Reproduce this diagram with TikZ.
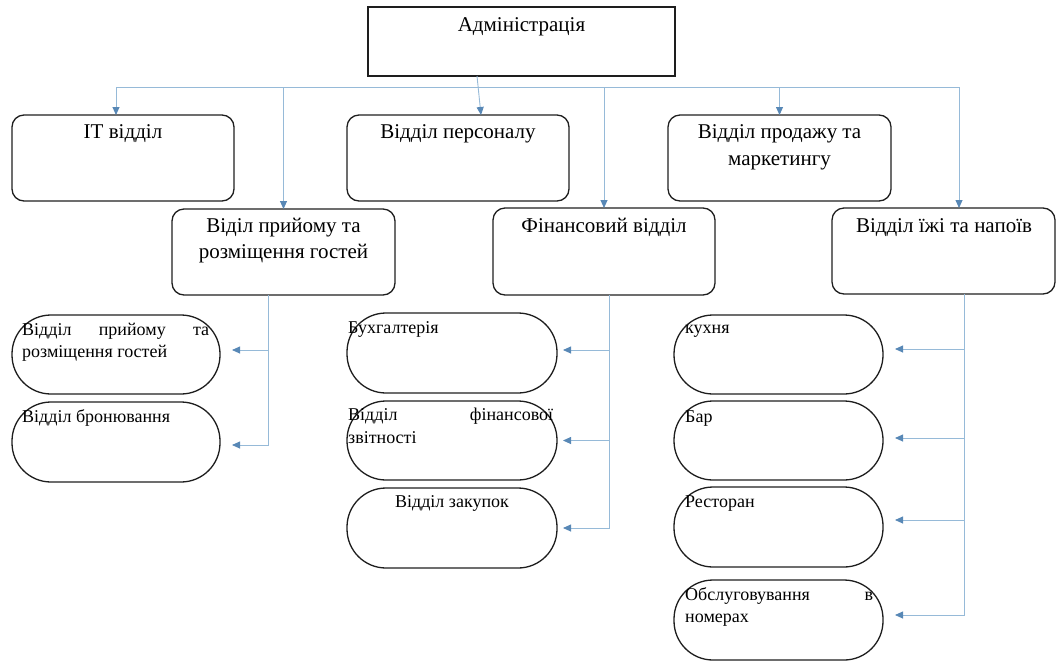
\documentclass[tikz,border=0pt]{standalone}
\usepackage{fontspec}
\setmainfont{Liberation Serif}
\usetikzlibrary{arrows.meta,calc}
\definecolor{linkblue}{RGB}{150,186,216}
\definecolor{tipblue}{RGB}{88,136,182}
\definecolor{boxline}{RGB}{30,30,30}
\begin{document}
\begin{tikzpicture}[x=1pt,y=-1pt,
  sqbox/.style={draw=boxline, line width=1.6pt, inner sep=0, outer sep=0, anchor=north west},
  rbox/.style={draw=boxline, line width=1.3pt, rounded corners=12pt, inner sep=0, outer sep=0, anchor=north west},
  pill/.style={draw=boxline, line width=1.3pt, rounded corners=39pt, inner sep=0, outer sep=0, anchor=north west},
  bigtxt/.style={font=\fontsize{21}{25}\selectfont, inner sep=0, anchor=base},
  smalltxt/.style={font=\fontsize{18}{22}\selectfont, inner sep=0, anchor=base west},
  conn/.style={draw=linkblue, line width=0.9pt},
  arr/.style={draw=linkblue, line width=0.9pt, -{Triangle[length=8pt,width=7pt,color=tipblue]}}
]
\useasboundingbox (0,0) rectangle (1056,662);

% boxes
\node[sqbox, minimum width=307pt, minimum height=69pt] (admin) at (368,7) {};
\node[rbox, minimum width=222pt, minimum height=86pt] (it) at (12,115) {};
\node[rbox, minimum width=222pt, minimum height=86pt] (pers) at (347,115) {};
\node[rbox, minimum width=223pt, minimum height=86pt] (sales) at (668,115) {};
\node[rbox, minimum width=223pt, minimum height=86pt] (rec) at (172,209) {};
\node[rbox, minimum width=222pt, minimum height=87pt] (fin) at (493,208) {};
\node[rbox, minimum width=223pt, minimum height=86pt] (food) at (832,208) {};

\node[pill, minimum width=208pt, minimum height=79pt] (l1) at (12,315) {};
\node[pill, minimum width=208pt, minimum height=80pt] (l2) at (12,402) {};
\node[pill, minimum width=210pt, minimum height=80pt] (m1) at (347,313) {};
\node[pill, minimum width=210pt, minimum height=79pt] (m2) at (347,401) {};
\node[pill, minimum width=210pt, minimum height=80pt] (m3) at (347,488) {};
\node[pill, minimum width=209pt, minimum height=79pt] (r1) at (674,315) {};
\node[pill, minimum width=209pt, minimum height=79pt] (r2) at (674,401) {};
\node[pill, minimum width=209pt, minimum height=80pt] (r3) at (674,487) {};
\node[pill, minimum width=209pt, minimum height=80pt] (r4) at (674,580) {};

% texts
\node[bigtxt] (tadmin) at (521.5,31) {Адміністрація};
\node[bigtxt] (tit) at (123,138) {IT відділ};
\node[bigtxt] (tpers) at (458,138) {Відділ персоналу};
\node[bigtxt] (tsalesa) at (779.5,138) {Відділ продажу та};
\node[bigtxt] (tsalesb) at (779.5,165) {маркетингу};
\node[bigtxt] (treca) at (283.5,232) {Віділ прийому та};
\node[bigtxt] (trecb) at (283.5,258) {розміщення гостей};
\node[bigtxt] (tfin) at (604,232) {Фінансовий відділ};
\node[bigtxt] (tfood) at (944,232) {Відділ їжі та напоїв};

\node[smalltxt] (tl1a) at (22,335) {\hbox to 187pt{Відділ\hfill прийому\hfill та}};
\node[smalltxt] (tl1b) at (22,357) {розміщення гостей};
\node[smalltxt] (tl2) at (22,422) {Відділ бронювання};
\node[smalltxt] (tm1) at (348,333) {Бухгалтерія};
\node[smalltxt] (tm2a) at (348,420) {\hbox to 205pt{Відділ\hfill фінансової}};
\node[smalltxt] (tm2b) at (348,443) {звітності};
\node[smalltxt, anchor=base] (tm3) at (452,507) {Відділ закупок};
\node[smalltxt] (tr1) at (685,333) {кухня};
\node[smalltxt] (tr2) at (685,422) {Бар};
\node[smalltxt] (tr3) at (685,507) {Ресторан};
\node[smalltxt] (tr4a) at (685,600) {\hbox to 188pt{Обслуговування\hfill в}};
\node[smalltxt] (tr4b) at (685,622) {номерах};

% top connectors
\coordinate (busL) at (116,87);
\coordinate (busR) at (959,87);
\draw[conn] (busL) -- (busR);
\draw[arr] (busL) -- (busL |- it.north);
\draw[arr] (busL -| rec.north) -- (rec.north);
\draw[arr] (busL -| fin.north) -- (fin.north);
\draw[arr] (busL -| sales.north) -- (sales.north);
\draw[arr] (busR) -- (busR |- food.north);
\draw[arr] ($(admin.south west)+(109,0)$) -- ($(pers.north west)+(134,0)$);

% left group
\coordinate (lv) at ($(rec.south west)+(96,0)$);
\draw[arr] (lv) |- ($(l2.east)+(12,3)$);
\draw[arr] (lv |- l1.east) ++(0,-4.5) -- ($(l1.east)+(12,-4.5)$);

% middle group
\coordinate (mv) at ($(fin.south west)+(116,0)$);
\draw[arr] (mv) |- ($(m3.east)+(6,0)$);
\draw[arr] ($(mv |- m1.east)+(0,-3)$) -- ($(m1.east)+(6,-3)$);
\draw[arr] (mv |- m2.east) -- ($(m2.east)+(6,0)$);

% right group
\coordinate (rv) at ($(food.south west)+(132,0)$);
\draw[arr] (rv) |- ($(r4.east)+(12,-5)$);
\draw[arr] ($(rv |- r1.east)+(0,-5.5)$) -- ($(r1.east)+(12,-5.5)$);
\draw[arr] ($(rv |- r2.east)+(0,-2.5)$) -- ($(r2.east)+(12,-2.5)$);
\draw[arr] ($(rv |- r3.east)+(0,-7)$) -- ($(r3.east)+(12,-7)$);
\end{tikzpicture}
\end{document}
